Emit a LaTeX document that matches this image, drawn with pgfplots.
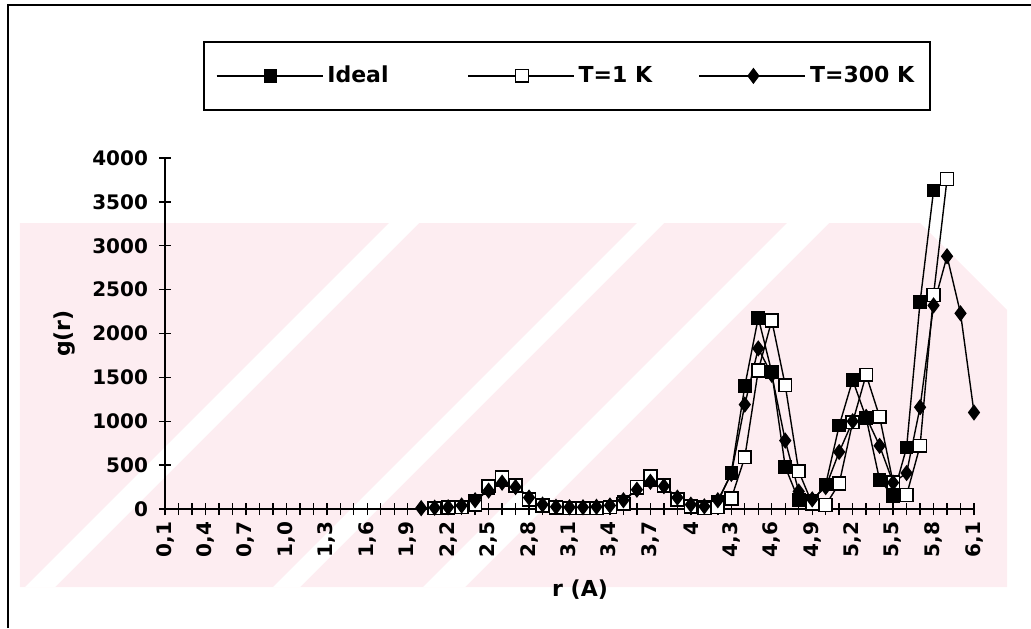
\documentclass[border=0pt]{standalone}
\usepackage{pgfplots}
\pgfplotsset{compat=1.18}
\usepackage{fontspec}
\setmainfont{DejaVu Sans}
\definecolor{wm}{RGB}{253,237,241}

\pgfplotstableread{
x y
21 15
22 20
23 30
24 90
25 240
26 330
27 280
28 120
29 40
30 20
31 15
32 15
33 15
34 30
35 80
36 240
37 330
38 280
39 110
40 40
41 20
42 80
43 410
44 1400
45 2180
46 1560
47 480
48 100
49 90
50 280
51 950
52 1470
53 1040
54 330
55 150
56 700
57 2360
58 3630
}\ideal

\pgfplotstableread{
x y
21 10
22 15
23 20
24 50
25 260
26 360
27 270
28 110
29 40
30 15
31 10
32 10
33 10
34 20
35 60
36 250
37 370
38 270
39 110
40 30
41 10
42 20
43 120
44 590
45 1580
46 2150
47 1410
48 430
49 60
50 45
51 290
52 990
53 1530
54 1050
55 300
56 160
57 720
58 2440
59 3760
}\tone

\pgfplotstableread{
x y
20 10
21 15
22 20
23 40
24 100
25 210
26 300
27 250
28 130
29 50
30 25
31 20
32 20
33 25
34 40
35 100
36 220
37 310
38 260
39 130
40 50
41 30
42 100
43 400
44 1190
45 1830
46 1530
47 780
48 200
49 110
50 250
51 650
52 1000
53 1050
54 720
55 300
56 410
57 1160
58 2320
59 2880
60 2230
61 1100
}\tthree

\begin{document}
\begin{tikzpicture}
% pixel-coordinate scope: (px,py) of the 1031x628 reference
\begin{scope}[x=0.5pt,y=-0.5pt,shift={(-82.5pt,254.5pt)}]
  \useasboundingbox (0,0) rectangle (1031,628);
  \fill[wm] (20,223) -- (920,223) -- (1007,310) -- (1007,587) -- (20,587) -- cycle;
  \fill[white] (612-223,223) -- (642-223,223) -- (642-587,587) -- (612-587,587) -- cycle;
  \fill[white] (860-223,223) -- (887-223,223) -- (887-587,587) -- (860-587,587) -- cycle;
  \fill[white] (1010-223,223) -- (1052-223,223) -- (1052-587,587) -- (1010-587,587) -- cycle;
  \draw[line width=1pt] (8,628) -- (8,5) -- (1031,5);
\end{scope}
\begin{axis}[
  scale only axis, width=404.5pt, height=175.5pt,
  xmin=1, xmax=61, ymin=0, ymax=4000,
  axis x line*=bottom, axis y line*=left,
  axis line style={-, line width=0.9pt},
  tick style={black, line width=0.7pt},
  tick align=center, major tick length=6pt, minor tick length=6pt,
  xtick={1,4,...,61},
  minor xtick={1,...,61},
  xticklabels={{0,1},{0,4},{0,7},{1,0},{1,3},{1,6},{1,9},{2,2},{2,5},{2,8},{3,1},{3,4},{3,7},{4},{4,3},{4,6},{4,9},{5,2},{5,5},{5,8},{6,1}},
  ytick={0,500,...,4000},
  yticklabels={0,500,1000,1500,2000,2500,3000,3500,4000},
  every tick label/.append style={font=\bfseries\fontsize{10}{12}\selectfont},
  xticklabel style={rotate=90, anchor=east, xshift=0pt},
  yticklabel style={xshift=-2pt},
  xlabel={r (A)}, ylabel={g(r)},
  every axis x label/.style={at={(axis description cs:0.513,-0.2308)}, anchor=center, font=\bfseries\fontsize{11}{13}\selectfont},
  every axis y label/.style={at={(axis description cs:-0.1236,0.5)}, rotate=90, anchor=center, font=\bfseries\fontsize{11}{13}\selectfont},
  legend columns=3,
  legend style={at={(axis description cs:0.047,1.333)}, anchor=north west,
    draw=black, line width=0.9pt, inner xsep=6pt, inner ysep=10pt,
    font=\bfseries\fontsize{11}{13}\selectfont,
    nodes={inner xsep=2pt},
    /tikz/every even column/.append style={column sep=0pt}},
  legend image code/.code={\draw[#1,mark repeat=2,mark phase=2] plot coordinates {(0pt,0pt) (27pt,0pt) (53pt,0pt)};},
]
\addplot[black, line width=0.7pt, mark=square*, mark size=3.1pt, mark options={fill=black, line width=0.6pt}] table {\ideal};
\addlegendentry{\makebox[68pt][l]{Ideal}}
\addplot[black, line width=0.7pt, mark=square*, mark size=3.2pt, mark options={fill=white, line width=0.8pt}] table {\tone};
\addlegendentry{\makebox[58pt][l]{T=1 K}}
\addplot[black, line width=0.7pt, mark=diamond*, mark size=3.6pt, mark options={fill=black, line width=0.6pt}] table {\tthree};
\addlegendentry{T=300 K}
\end{axis}
\end{tikzpicture}
\end{document}
